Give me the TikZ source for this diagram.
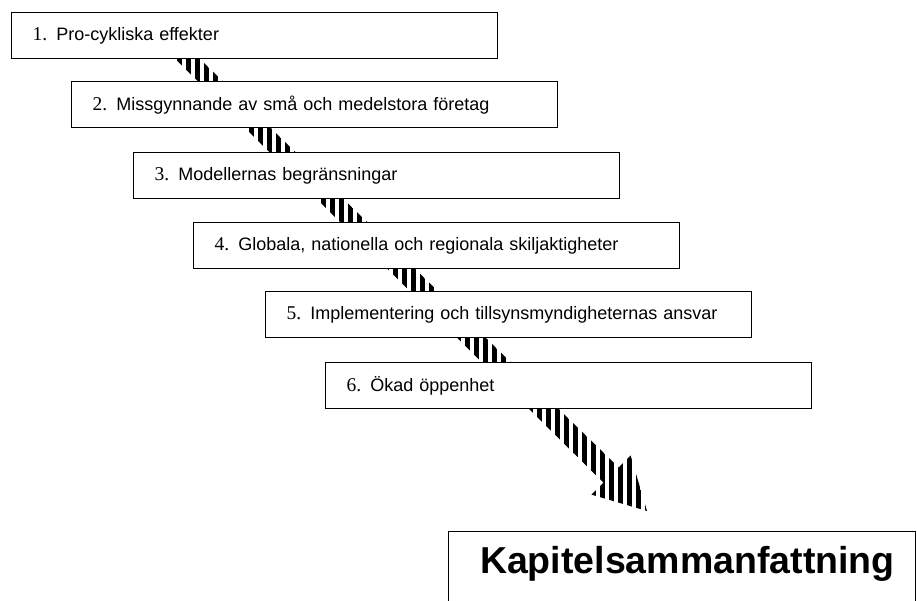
\documentclass[tikz,border=0pt]{standalone}
\usepackage{fontspec}
\setmainfont{Liberation Sans}
\newfontfamily\numfont{Liberation Serif}
\usetikzlibrary{calc}
\newcommand{\stepno}[1]{{\numfont\fontsize{19.5}{21}\selectfont #1.}}

\begin{document}
\begin{tikzpicture}[x=1pt,y=-1pt,line join=miter]
	\tikzset{stepbox/.style={draw,line width=1.3pt,fill=white,anchor=north west,minimum height=46pt,text width=444pt,inner xsep=21pt,align=left,font=\fontsize{18}{21}\selectfont}}
	\clip (0,0) rectangle (917,601);
	% striped arrow, behind the boxes
	\coordinate (tail) at (152,24);
	\coordinate (base) at (611,475);
	\coordinate (tip) at (647,511);
	\begin{scope}
		\clip ($(tail)+(6,-6)$) -- ($(base)+(7.6,-7.6)$) -- ($(base)+(19.6,-19.6)$) -- (tip)
			-- ($(base)+(-19.6,19.6)$) -- ($(base)+(-7.6,7.6)$) -- ($(tail)+(-6,6)$) -- cycle;
		\foreach \x in {150,159,...,660}
		\fill (\x,0) rectangle +(4.8,601);
	\end{scope}
	% the six steps
	\node[stepbox] (s1) at (11,12) {\stepno{1} Pro-cykliska effekter};
	\node[stepbox] (s2) at (71,81) {\stepno{2} Missgynnande av små och medelstora företag};
	\node[stepbox] (s3) at (133,152) {\stepno{3} Modellernas begränsningar};
	\node[stepbox] (s4) at (193,222) {\stepno{4} Globala, nationella och regionala skiljaktigheter};
	\node[stepbox] (s5) at (265,291) {\stepno{5} Implementering och tillsynsmyndigheternas ansvar};
	\node[stepbox] (s6) at (325,362) {\stepno{6} Ökad öppenhet};
	\node[draw,line width=1.3pt,anchor=north west,text width=425pt,inner xsep=21pt,align=right,text height=27pt,text depth=40pt,inner ysep=15pt,font=\fontsize{37.5}{42}\selectfont\bfseries] (summary) at (448,531) {Kapitelsammanfattning};
\end{tikzpicture}
\end{document}
